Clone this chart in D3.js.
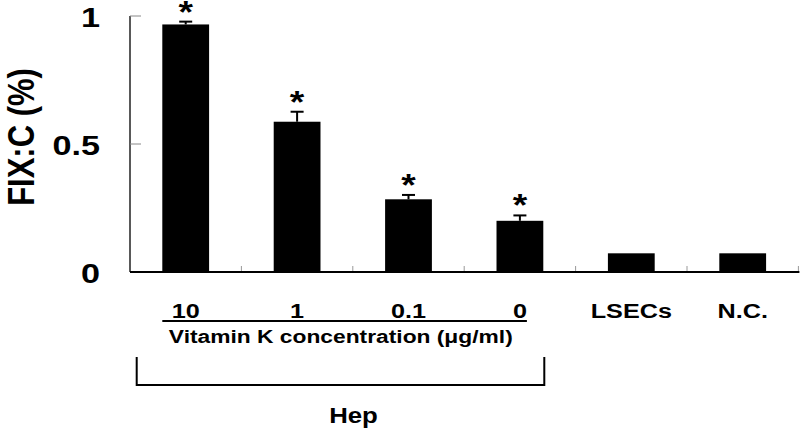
<!DOCTYPE html>
<html>
<head>
<meta charset="utf-8">
<script src="https://cdn.jsdelivr.net/npm/d3@7/dist/d3.min.js"></script>
<style>
  html, body { margin: 0; padding: 0; background: #fff; }
  svg { display: block; }
  text { font-family: "Liberation Sans", Arial, Helvetica, sans-serif; font-weight: bold; fill: #000; }
</style>
</head>
<body>
<script>
// ---- data ----
const categories = ["10", "1", "0.1", "0", "LSECs", "N.C."];
const values = [0.967, 0.587, 0.284, 0.200, 0.073, 0.073];
const errors = [0.011, 0.039, 0.017, 0.021, 0, 0];
const significant = [true, true, true, true, false, false];
const yTicks = [0, 0.5, 1];
const yTickLabels = ["0", "0.5", "1"];
const yTitle = "FIX:C (%)";
const groupLabel = "Vitamin K concentration (\u03bcg/ml)";
const bracketLabel = "Hep";
const groupCount = 4; // first four categories belong to Hep

// ---- layout ----
const W = 800, H = 429;
const SX = 1.2; // horizontal stretch of the original figure
const svg = d3.select("body").append("svg").attr("width", W).attr("height", H);

const x = d3.scaleBand().domain(categories).range([130, 798.4])
  .paddingInner(0.58).paddingOuter(0.29);
const y = d3.scaleLinear().domain([0, 1]).range([272, 16]);

function stext(g, str, px, py, size, anchor) {
  return g.append("g").attr("transform", `translate(${px},${py}) scale(${SX},1)`)
    .append("text").attr("text-anchor", anchor || "middle")
    .style("font-size", size + "px").text(str);
}

// bars
svg.append("g").selectAll("rect").data(categories).join("rect")
  .attr("x", d => x(d))
  .attr("width", x.bandwidth())
  .attr("y", (d, i) => y(values[i]))
  .attr("height", (d, i) => y(0) - y(values[i]))
  .attr("fill", "#000");

// error bars
const eg = svg.append("g").attr("stroke", "#000").attr("stroke-width", 2);
categories.forEach((c, i) => {
  if (!errors[i]) return;
  const cx = x(c) + x.bandwidth() / 2;
  eg.append("line").attr("x1", cx).attr("x2", cx).attr("y1", y(values[i])).attr("y2", y(values[i] + errors[i]));
  eg.append("line").attr("x1", cx - 6.5).attr("x2", cx + 6.5).attr("y1", y(values[i] + errors[i])).attr("y2", y(values[i] + errors[i]));
});

// asterisks
categories.forEach((c, i) => {
  if (!significant[i]) return;
  const cx = x(c) + x.bandwidth() / 2;
  stext(svg, "*", cx, y(values[i] + errors[i]) + 1, 31);
});

// y axis
const x0 = x.range()[0];
svg.append("line").attr("x1", x0).attr("x2", x0).attr("y1", y(1)).attr("y2", y(0))
  .attr("stroke", "#222").attr("stroke-width", 1.5);
svg.append("g").selectAll("line").data(yTicks.filter(t => t > 0)).join("line")
  .attr("x1", x0).attr("x2", x0 + 11).attr("y1", d => y(d)).attr("y2", d => y(d))
  .attr("stroke", "#888").attr("stroke-width", 1);
yTicks.forEach((t, i) => {
  stext(svg, yTickLabels[i], 100, y(t) + 11, 28.5, "end");
});

// y title
svg.append("g").attr("transform", `translate(21,137) scale(${SX},1) rotate(-90)`)
  .append("text").attr("text-anchor", "middle").attr("y", 11)
  .style("font-size", "31px").text(yTitle);

// x axis with band boundary ticks
const step = x.step();
const xEnd = x.range()[1];
svg.append("g").selectAll("line").data(d3.range(1, categories.length + 1)).join("line")
  .attr("x1", i => x0 + i * step).attr("x2", i => x0 + i * step)
  .attr("y1", y(0) - 6).attr("y2", y(0))
  .attr("stroke", "#999").attr("stroke-width", 1);
svg.append("line").attr("x1", x0).attr("x2", xEnd + 1).attr("y1", y(0)).attr("y2", y(0))
  .attr("stroke", "#000").attr("stroke-width", 2);

// x labels
categories.forEach((c, i) => {
  stext(svg, c, x(c) + x.bandwidth() / 2, 318, 21);
});

// group underline and label
const gLeft = x(categories[0]);
const gRight = x(categories[groupCount - 1]) + x.bandwidth() / 2 + 7;
svg.append("line").attr("x1", gLeft).attr("x2", gRight).attr("y1", 321).attr("y2", 321)
  .attr("stroke", "#000").attr("stroke-width", 1.8);
stext(svg, groupLabel, (gLeft + x(categories[groupCount - 1]) + x.bandwidth()) / 2 - 12, 342.5, 19);

// bracket
const bL = x0 + 6.7;
const bR = x(categories[groupCount - 1]) + x.bandwidth() + 1;
svg.append("path")
  .attr("d", `M${bL},357 L${bL},385 L${bR},385 L${bR},357`)
  .attr("fill", "none").attr("stroke", "#000").attr("stroke-width", 2);
stext(svg, bracketLabel, (bL + bR) / 2 + 13, 423, 21.5);
</script>
</body>
</html>
